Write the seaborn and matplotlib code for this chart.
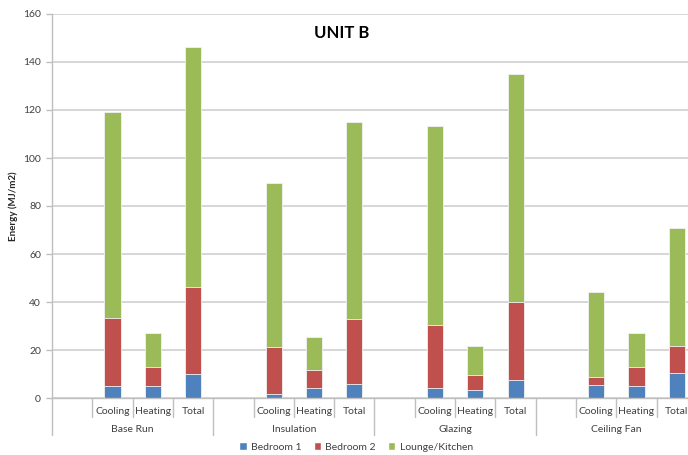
import seaborn as sns
import matplotlib.pyplot as plt
import pandas as pd
from matplotlib.patches import Patch

# data (MJ/m2)
groups = ['Base Run', 'Insulation', 'Glazing', 'Ceiling Fan']
seasons = ['Cooling', 'Heating', 'Total']
bedroom1 = [5.1, 5.0, 10.1, 1.6, 4.3, 5.9, 4.0, 3.5, 7.5, 5.6, 5.0, 10.6]
bedroom2 = [28.1, 7.9, 36.0, 19.6, 7.5, 27.1, 26.6, 6.0, 32.6, 3.1, 7.9, 11.0]
lounge = [86.0, 14.1, 100.3, 68.2, 13.7, 81.9, 82.7, 12.3, 95.0, 35.3, 14.1, 49.4]
series = ['Bedroom 1', 'Bedroom 2', 'Lounge/Kitchen']
colors = ['#4F81BD', '#C0504D', '#9BBB59']

sns.set_style('white')
plt.rcParams['font.family'] = ['Lato', 'DejaVu Sans']

rows = []
i = 0
for g in groups:
    for s in seasons:
        rows.append({'slot': g + '|' + s, 'Bedroom 1': bedroom1[i],
                     'Bedroom 2': bedroom2[i], 'Lounge/Kitchen': lounge[i]})
        i += 1
df = pd.DataFrame(rows)
# cumulative heights for stacking
df['c1'] = df['Bedroom 1']
df['c2'] = df['c1'] + df['Bedroom 2']
df['c3'] = df['c2'] + df['Lounge/Kitchen']

order = []
for g in groups:
    order += [g + '|'] + [g + '|' + s for s in seasons]

fig = plt.figure(figsize=(6.88, 4.55), dpi=100)
ax = fig.add_axes([52 / 688, 57 / 455, 645 / 688, 384 / 455])

for col, c in zip(['c3', 'c2', 'c1'], colors[::-1]):
    sns.barplot(data=df, x='slot', y=col, order=order, color=c, width=0.4,
                saturation=1, edgecolor='#f2f2f2', linewidth=0.6, ax=ax)

ax.set_xlim(-0.5, len(order) - 0.5)
ax.set_ylim(0, 160)
ax.set_yticks(range(0, 161, 20))
ax.yaxis.grid(True, color='#d0d0d0', linewidth=1.2)
ax.set_axisbelow(True)
ax.tick_params(axis='y', labelsize=7.5, labelcolor='#404040', color='#bfbfbf',
               length=4, width=1, left=True, pad=4)
for sp in ['top', 'right']:
    ax.spines[sp].set_visible(False)
for sp in ['left', 'bottom']:
    ax.spines[sp].set_color('#bfbfbf')
    ax.spines[sp].set_linewidth(1)
ax.set_xticks([])
ax.set_xlabel('')
ax.set_ylabel('Energy (MJ/m2)', fontsize=7, fontweight='bold')
ax.yaxis.set_label_coords(-34 / 645, 0.5)

# multi-level category axis
tr = ax.get_xaxis_transform()
for k in range(len(order) + 1):
    x = k - 0.5
    y0 = -0.096 if k % 4 == 0 else -0.049
    ax.plot([x, x], [0, y0], transform=tr, color='#bfbfbf', lw=1, clip_on=False)
for k, name in enumerate(order):
    lab = name.split('|')[1]
    if lab:
        ax.text(k, -0.034, lab, transform=tr, ha='center', va='center',
                fontsize=7.5, color='#404040')
for j, g in enumerate(groups):
    ax.text(j * 4 + 1.5, -0.082, g, transform=tr, ha='center', va='center',
            fontsize=7.5, color='#404040')

fig.text(342 / 688, 1 - 33 / 455, 'UNIT B', ha='center', va='center',
         fontsize=12, fontweight='bold', color='black')

handles = [Patch(facecolor=c, label=s) for c, s in zip(colors, series)]
fig.legend(handles=handles, loc='center', bbox_to_anchor=(356 / 688, 1 - 447 / 455),
           ncol=3, frameon=False, fontsize=7.5, handlelength=0.7, handleheight=0.7,
           handletextpad=0.4, columnspacing=1.2, labelcolor='#404040')

fig.savefig('out.png', dpi=100)
